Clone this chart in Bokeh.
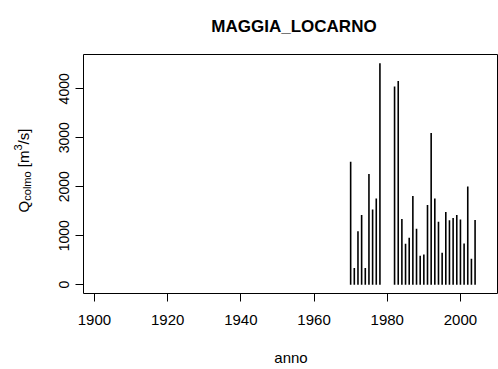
from bokeh.plotting import figure
from bokeh.models import ColumnDataSource, Label, Range1d, FixedTicker
from bokeh.layouts import row
from bokeh.embed import file_html
from bokeh.resources import INLINE

title_text = "MAGGIA_LOCARNO"
x_label = "anno"
years = [1970, 1971, 1972, 1973, 1974, 1975, 1976, 1977, 1978,
         1982, 1983, 1984, 1985, 1986, 1987, 1988, 1989, 1990, 1991, 1992, 1993,
         1994, 1995, 1996, 1997, 1998, 1999, 2000, 2001, 2002, 2003, 2004]
q_colmo = [2510, 339, 1090, 1422, 339, 2261, 1536, 1759, 4520,
           4046, 4162, 1341, 834, 956, 1813, 1144, 590, 617, 1625, 3099, 1759,
           1287, 651, 1482, 1313, 1362, 1422, 1333, 840, 2006, 530, 1321]
x_ticks = [1900, 1920, 1940, 1960, 1980, 2000]
y_ticks = [0, 1000, 2000, 3000, 4000]
# y axis label pieces: (text, font size px, baseline shift px)
ylabel_pieces = [("Q", 15, 0), ("colmo", 11, 3), (" ", 15, 0), ("[m", 15, 0),
                 ("3", 11, -6), ("/s]", 15, 0)]

FONT = "Liberation Sans"
ymax = max(q_colmo)
H = 369
LW = 50  # width of the strip that holds the y label
TOP, BOTTOM = 54, 76

p = figure(width=498 - LW, height=H,
           x_range=Range1d(1897.0, 2010.4),
           y_range=Range1d(-0.04 * ymax, 1.04 * ymax),
           output_backend="svg", toolbar_location=None,
           min_border_left=83 - LW, min_border_right=0,
           min_border_top=TOP, min_border_bottom=BOTTOM)
p.background_fill_color = "white"
p.border_fill_color = "white"
p.outline_line_color = "black"
p.outline_line_width = 1
p.xgrid.visible = False
p.ygrid.visible = False

# title as a label in the panel above the frame
p.add_layout(Label(x=210.5, y=28, x_units="screen", y_units="screen",
                   text=title_text, text_font=FONT, text_font_size="17px",
                   text_font_style="bold", text_align="center",
                   text_baseline="alphabetic", text_color="black"), "above")

src = ColumnDataSource(dict(x=years, q=q_colmo))
p.segment(x0="x", y0=0, x1="x", y1="q", source=src,
          line_color="black", line_width=1.6)

for ax in (p.xaxis[0], p.yaxis[0]):
    ax.axis_line_color = None
    ax.major_tick_in = 0
    ax.major_tick_out = 8
    ax.minor_tick_out = 0
    ax.minor_tick_in = 0
    ax.major_tick_line_color = "black"
    ax.major_label_text_font = FONT
    ax.major_label_text_color = "black"

p.xaxis.ticker = FixedTicker(ticks=x_ticks)
p.xaxis.major_label_text_font_size = "15px"
p.xaxis.major_label_standoff = 13
p.xaxis.axis_label = x_label
p.xaxis.axis_label_text_font = FONT
p.xaxis.axis_label_text_font_size = "15px"
p.xaxis.axis_label_text_font_style = "normal"
p.xaxis.axis_label_text_color = "black"
p.xaxis.axis_label_standoff = 21

p.yaxis.ticker = FixedTicker(ticks=y_ticks)
p.yaxis.major_label_text_font_size = "14px"
p.yaxis.major_label_orientation = "vertical"
p.yaxis.major_label_standoff = 6

# strip on the left holding the composed y-axis label
q = figure(width=LW, height=H, x_range=Range1d(0, LW), y_range=Range1d(0, H),
           output_backend="svg", toolbar_location=None,
           x_axis_location=None, y_axis_location=None,
           min_border=0, min_border_left=0, min_border_right=0,
           min_border_top=0, min_border_bottom=0)
q.outline_line_color = None
q.xgrid.visible = False
q.ygrid.visible = False
q.background_fill_color = "white"
q.border_fill_color = "white"

W = {"Q": .778, "c": .5, "o": .556, "l": .222, "m": .833, " ": .278,
     "[": .278, "3": .556, "/": .278, "s": .5, "]": .278}
def width(t, fs):
    return sum(W[ch] for ch in t) * fs
L = sum(width(t, fs) for t, fs, _ in ylabel_pieces)
base_x = 23
pos = (H - BOTTOM - 170) - L / 2
for t, fs, shift in ylabel_pieces:
    if t.strip():
        q.add_layout(Label(x=base_x + shift, y=pos, x_units="screen", y_units="screen",
                           text=t, text_font=FONT, text_font_size=f"{fs}px",
                           angle=1.5707963, text_align="left",
                           text_baseline="alphabetic", text_color="black"))
    pos += width(t, fs)

layout = row(q, p, spacing=0)
open("out.html", "w").write(file_html(layout, INLINE))
